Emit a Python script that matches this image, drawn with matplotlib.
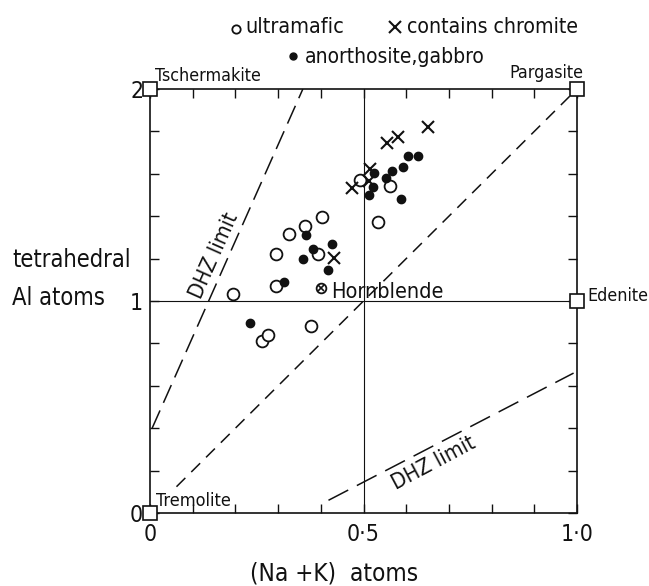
#!/usr/bin/env python3
"""
Amphibole compositions: tetrahedral Al vs (Na+K)
"""

import numpy as np
import matplotlib
matplotlib.use("Agg")
import matplotlib.pyplot as plt
from matplotlib.lines import Line2D

plt.rcParams['font.family'] = ['DejaVu Sans']
plt.rcParams['font.stretch'] = 'condensed'
plt.rcParams['lines.scale_dashes'] = False

# ultramafic (open circles)
ultra_x = [0.195, 0.295, 0.295, 0.326, 0.362, 0.403, 0.394, 0.377, 0.262, 0.277, 0.533, 0.562, 0.492]
ultra_y = [1.035, 1.220, 1.069, 1.318, 1.352, 1.396, 1.220, 0.881, 0.810, 0.841, 1.371, 1.541, 1.572]

# anorthosite, gabbro (filled dots)
gab_x = [0.234, 0.314, 0.366, 0.381, 0.359, 0.426, 0.416, 0.512, 0.523, 0.524,
         0.553, 0.566, 0.592, 0.605, 0.627, 0.588]
gab_y = [0.896, 1.088, 1.310, 1.245, 1.198, 1.270, 1.145, 1.502, 1.538, 1.604,
         1.580, 1.612, 1.630, 1.686, 1.686, 1.483]

# contains chromite (crosses)
chrom_x = [0.473, 0.516, 0.512, 0.431, 0.556, 0.580, 0.652]
chrom_y = [1.533, 1.623, 1.564, 1.203, 1.745, 1.774, 1.819]

# average hornblende
horn_x, horn_y = 0.401, 1.061

# end members
end_names = ['Tremolite', 'Tschermakite', 'Pargasite', 'Edenite']
end_x = [0.0, 0.0, 1.0, 1.0]
end_y = [0.0, 2.0, 2.0, 1.0]

# dashed lines
dhz_up_x, dhz_up_y = [0.005, 0.358], [0.40, 2.0]
diag_x, diag_y = [0.062, 0.985], [0.124, 1.97]
dhz_lo_x, dhz_lo_y = [0.418, 0.992], [0.060, 0.660]

K = '#111111'

fig = plt.figure(figsize=(6.49, 5.86), dpi=100, facecolor='white')
ax = fig.add_axes([150 / 649, 1 - 513 / 586, 427 / 649, 424 / 586])

# reference lines
ax.axvline(0.5, color=K, lw=0.8, zorder=1)
ax.axhline(1.0, color=K, lw=0.8, zorder=1)

ax.plot(dhz_up_x, dhz_up_y, color=K, lw=1.1, dashes=(14, 6))
ax.plot(diag_x, diag_y, color=K, lw=1.1, dashes=(9, 6))
ax.plot(dhz_lo_x, dhz_lo_y, color=K, lw=1.1, dashes=(16, 7))

ax.text(0.150, 1.212, 'DHZ limit', rotation=66, ha='center', va='center',
        fontsize=15.5, color=K, rotation_mode='anchor')
ax.text(0.664, 0.235, 'DHZ limit', rotation=28, ha='center', va='center',
        fontsize=15.5, color=K, rotation_mode='anchor')

# data points
ax.plot(ultra_x, ultra_y, 'o', ms=8.5, mfc='white', mec=K, mew=1.3, ls='none', zorder=3)
ax.plot(gab_x, gab_y, 'o', ms=6, mfc=K, mec=K, ls='none', zorder=3)
ax.plot(chrom_x, chrom_y, 'x', ms=9, mec=K, mew=1.5, ls='none', zorder=4)

ax.plot([horn_x], [horn_y], 'o', ms=7, mfc='white', mec=K, mew=1.3, zorder=4)
ax.plot([horn_x], [horn_y], 'x', ms=4.5, mec=K, mew=1.2, zorder=5)
ax.text(0.424, 1.014, 'Hornblende', fontsize=15.5, color=K, ha='left', va='baseline')

# end-member squares
ax.plot(end_x, end_y, 's', ms=9.5, mfc='white', mec=K, mew=1.2, ls='none',
        clip_on=False, zorder=6)
ax.text(0.015, 0.033, end_names[0], fontsize=13, color=K, ha='left', va='baseline')
ax.text(0.012, 2.04, end_names[1], fontsize=12.8, color=K, ha='left', va='baseline')
ax.text(1.014, 2.05, end_names[2], fontsize=12.8, color=K, ha='right', va='baseline')
ax.text(1.024, 1.0, end_names[3], fontsize=12.8, color=K, ha='left', va='baseline')

# axes styling
ax.set_xlim(0, 1)
ax.set_ylim(0, 2)
ax.set_xticks(np.arange(0, 1.01, 0.1))
ax.set_xticklabels(['0', '', '', '', '', '0·5', '', '', '', '', '1·0'])
ax.set_yticks(np.arange(0, 2.01, 0.2))
ax.set_yticklabels(['0', '', '', '', '', '1', '', '', '', '', '2'])
ax.tick_params(direction='in', length=6.5, width=1, top=True, right=True,
               labelsize=16.5, colors=K)
ax.tick_params(axis='x', pad=7)
ax.tick_params(axis='y', pad=5)
for s in ax.spines.values():
    s.set_linewidth(1.2)
    s.set_color(K)

# axis labels
fig.text(12 / 649, 1 - 267 / 586, 'tetrahedral', fontsize=17, color=K, ha='left', va='baseline')
fig.text(12 / 649, 1 - 305 / 586, 'Al atoms', fontsize=17, color=K, ha='left', va='baseline')
fig.text(250 / 649, 1 - 580 / 586, '(Na +K)  atoms', fontsize=17.5, color=K, ha='left', va='baseline')

# legend
fig.add_artist(Line2D([236 / 649], [1 - 29 / 586], transform=fig.transFigure, marker='o',
                      ms=6, mfc='white', mec=K, mew=1.3, ls='none'))
fig.text(245 / 649, 1 - 33 / 586, 'ultramafic', fontsize=15.5, color=K, ha='left', va='baseline')
fig.add_artist(Line2D([395 / 649], [1 - 27 / 586], transform=fig.transFigure, marker='x',
                      ms=8, mec=K, mew=1.5, ls='none'))
fig.text(407 / 649, 1 - 33 / 586, 'contains chromite', fontsize=15.2, color=K, ha='left', va='baseline')
fig.add_artist(Line2D([293 / 649], [1 - 56 / 586], transform=fig.transFigure, marker='o',
                      ms=5, mfc=K, mec=K, ls='none'))
fig.text(305 / 649, 1 - 63 / 586, 'anorthosite,gabbro', fontsize=15, color=K, ha='left', va='baseline')

fig.savefig('out.png', dpi=100, facecolor='white')
